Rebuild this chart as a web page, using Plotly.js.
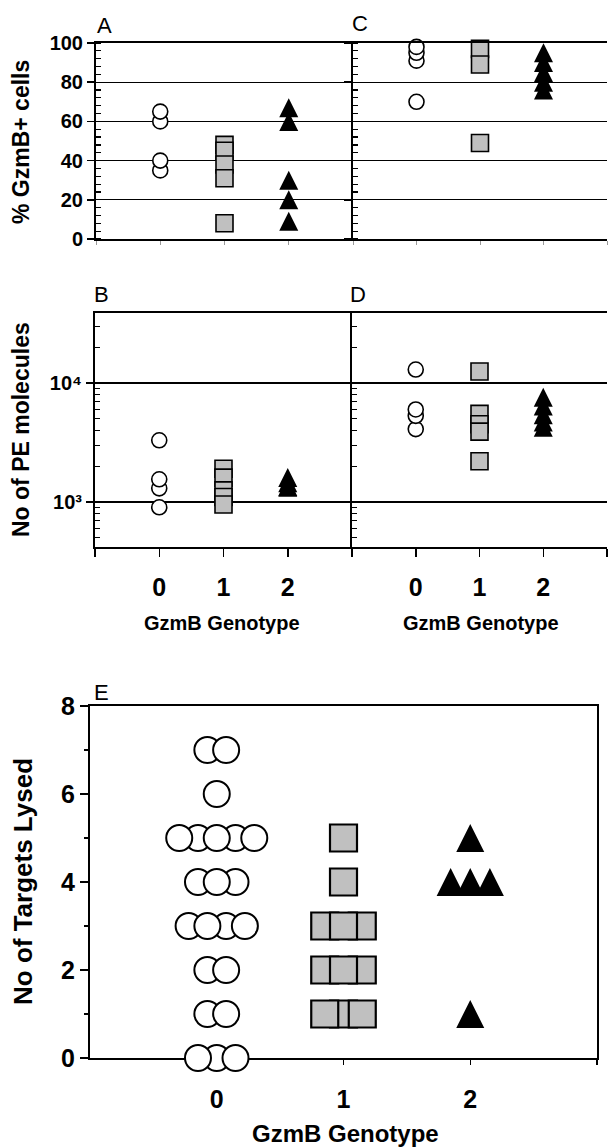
<!DOCTYPE html>
<html><head><meta charset="utf-8">
<script src="https://cdn.plot.ly/plotly-3.0.1.min.js"></script>
<style>html,body{margin:0;padding:0;background:#fff}#chart{width:608px;height:1147px}</style>
</head><body><div id="chart"></div>
<script>
// ---------- data ----------
const genotypes = [0, 1, 2];
const genotypeLabels = ['0', '1', '2'];
// Panel A: % GzmB+ cells
const A_g0 = [60, 65, 35, 40];
const A_g1 = [48, 45, 38, 31, 8];
const A_g2 = [67, 60, 30, 20, 9];
// Panel C: % GzmB+ cells
const C_g0 = [91, 95, 98, 70];
const C_g1 = [97, 89, 49];
const C_g2 = [95, 90, 85, 80, 76];
// Panel B: No of PE molecules
const B_g0 = [3300, 1300, 1550, 900];
const B_g1 = [1900, 1600, 1250, 1100, 950];
const B_g2 = [1600, 1450, 1350, 1330];
// Panel D: No of PE molecules
const D_g0 = [13000, 4100, 5300, 6000];
const D_g1 = [12500, 5500, 4500, 3900, 2200];
const D_g2 = [7600, 6400, 5400, 4700, 4250];
// Panel E: No of targets lysed (value and number of cells at that value)
const E_g0_values = [7, 6, 5, 4, 3, 2, 1, 0];
const E_g0_counts = [2, 1, 5, 3, 4, 2, 2, 3];
const E_g1_values = [5, 4, 3, 2, 1];
const E_g1_counts = [1, 1, 3, 3, 3];
const E_g2_values = [5, 4, 1];
const E_g2_counts = [1, 3, 1];
const pctTicks = [0, 20, 40, 60, 80, 100];
const logTicks = [1000, 10000];
const logTickText = ['10³', '10⁴'];
const lysedTicks = [0, 2, 4, 6, 8];

// ---------- helpers ----------
const W = 608, H = 1147;
const px = v => v / W, py = v => 1 - v / H;
const FAM = 'Liberation Sans, Arial, sans-serif';
const bf = (s) => ({family: FAM, size: s, color: '#000', weight: 700});

// spreads the points of each value row side by side around the group position
function swarm(group, values, counts, spacing, orderFn) {
  const xs = [], ys = [];
  values.forEach((v, k) => {
    const n = counts[k];
    const ord = orderFn(v, n) || Array.from({length: n}, (_, i) => i);
    ord.forEach(i => { xs.push(group + (i - (n - 1) / 2) * spacing); ys.push(v); });
  });
  return {x: xs, y: ys};
}

// isosceles triangle (equal width/height) centred on the data point
const tri = (s) => ({symbol: 'arrow-down', angle: 180, size: s, standoff: s / 2, color: '#000', line: {color: '#000', width: 0}});
const mCircle = {symbol: 'circle', size: 15, color: '#fff', line: {color: '#000', width: 1.6}};
const mSquare = {symbol: 'square', size: 17, color: '#c0c0c0', line: {color: '#000', width: 1.6}};
const mTri = tri(19);
const eCircle = {symbol: 'circle', size: 26, color: '#fff', line: {color: '#000', width: 2}};
const eSquare = {symbol: 'square', size: 27, color: '#c0c0c0', line: {color: '#000', width: 2.2}};
const eTri = tri(28);

function col(vals, g, xa, ya, marker) {
  return {type: 'scatter', mode: 'markers', x: vals.map(() => genotypes[g]), y: vals,
    xaxis: xa, yaxis: ya, marker: marker, hoverinfo: 'skip', cliponaxis: false};
}

const traces = [];
[['x', 'y', A_g0, A_g1, A_g2], ['x2', 'y2', C_g0, C_g1, C_g2],
 ['x3', 'y3', B_g0, B_g1, B_g2], ['x4', 'y4', D_g0, D_g1, D_g2]].forEach(p => {
  traces.push(col(p[2], 0, p[0], p[1], mCircle));
  traces.push(col(p[3], 1, p[0], p[1], mSquare));
  traces.push(col(p[4], 2, p[0], p[1], mTri));
});
const SP = 0.148;
const e0 = swarm(genotypes[0], E_g0_values, E_g0_counts, SP, (v, n) =>
  ({3: v === 0 ? [1, 0, 2] : [0, 2, 1], 4: [2, 0, 1, 3], 5: [1, 3, 0, 2, 4]})[n]);
const e1 = swarm(genotypes[1], E_g1_values, E_g1_counts, SP, (v, n) =>
  n === 3 ? (v === 1 ? [1, 0, 2] : [0, 2, 1]) : null);
const e2 = swarm(genotypes[2], E_g2_values, E_g2_counts, 0.155, () => null);
[[e0, eCircle], [e1, eSquare], [e2, eTri]].forEach(([d, m]) => {
  traces.push({type: 'scatter', mode: 'markers', x: d.x, y: d.y, xaxis: 'x5', yaxis: 'y5',
    marker: m, hoverinfo: 'skip', cliponaxis: false});
});

// ---------- axes ----------
const topX = (dom, anchor) => ({domain: dom, anchor: anchor, range: [-1, 3], tickmode: 'array',
  tickvals: [-1, 0, 1, 2, 3], showticklabels: false, ticks: 'outside', ticklen: 4, tickwidth: 1,
  tickcolor: '#999', showline: true, linecolor: '#000', linewidth: 2, mirror: true,
  showgrid: false, zeroline: false, fixedrange: true});
const midX = (dom, anchor) => ({domain: dom, anchor: anchor, range: [-1, 3], tickmode: 'array',
  tickvals: genotypes, ticktext: genotypeLabels, tickfont: bf(25),
  ticks: 'outside', ticklen: 8, tickwidth: 1.5, tickcolor: '#000', ticklabelstandoff: 9,
  showline: true, linecolor: '#000', linewidth: 2, mirror: true,
  showgrid: false, zeroline: false, fixedrange: true,
  minor: {tickmode: 'array', tickvals: [-1, 3], ticks: 'outside', ticklen: 8, tickwidth: 1.5, tickcolor: '#000', showgrid: false}});
const pctY = (dom, anchor, labels) => ({domain: dom, anchor: anchor, range: [0, 100], tickmode: 'array',
  tickvals: pctTicks, showticklabels: labels, tickfont: bf(20), ticks: 'outside', ticklen: 7,
  tickwidth: 1.5, tickcolor: '#000', showgrid: true, gridcolor: '#000', gridwidth: 1.3,
  showline: true, linecolor: '#000', linewidth: 2, zeroline: false, fixedrange: true,
  minor: {tickmode: 'linear', tick0: 0, dtick: 4, ticks: 'inside', ticklen: 5, tickwidth: 1.2, tickcolor: '#000', showgrid: false}});
const logMinor = [];
[100, 1000, 10000].forEach(d => { for (let m = 2; m <= 9; m++) logMinor.push(m * d); });
const logY = (dom, anchor, labels) => ({domain: dom, anchor: anchor, type: 'log', range: [2.62, 4.59],
  tickmode: 'array', tickvals: logTicks, ticktext: logTickText, showticklabels: labels, tickfont: bf(20),
  ticks: 'outside', ticklen: 7, tickwidth: 1.5, tickcolor: '#000', showgrid: true, gridcolor: '#000',
  gridwidth: 1.3, showline: true, linecolor: '#000', linewidth: 2, zeroline: false, fixedrange: true,
  minor: {tickmode: 'array', tickvals: logMinor, ticks: 'inside', ticklen: 5, tickwidth: 1.2, tickcolor: '#000', showgrid: false}});

const yTop = [py(239), py(43)], yMid = [py(547), py(313)], yBot = [py(1058), py(706)];
const layout = {
  width: W, height: H, margin: {l: 0, r: 0, t: 0, b: 0}, showlegend: false,
  paper_bgcolor: '#fff', plot_bgcolor: 'rgba(0,0,0,0)', font: {family: FAM, color: '#000'},
  xaxis: topX([px(96), px(353)], 'y'),
  yaxis: pctY(yTop, 'x', true),
  xaxis2: topX([px(353), px(607)], 'y2'),
  yaxis2: pctY(yTop, 'x2', false),
  xaxis3: midX([px(95), px(352)], 'y3'),
  yaxis3: logY(yMid, 'x3', true),
  xaxis4: midX([px(352), px(607)], 'y4'),
  yaxis4: logY(yMid, 'x4', false),
  xaxis5: {domain: [px(90), px(597)], anchor: 'y5', range: [-1, 3], tickmode: 'array',
    tickvals: genotypes, ticktext: genotypeLabels, tickfont: bf(25), ticks: 'outside',
    ticklen: 5, tickwidth: 1.5, tickcolor: '#000', ticklabelstandoff: 13, showline: true,
    linecolor: '#000', linewidth: 2, mirror: true, showgrid: false, zeroline: false,
    layer: 'below traces', fixedrange: true,
    minor: {tickmode: 'array', tickvals: [3], ticks: 'outside', ticklen: 5, tickwidth: 1.5, tickcolor: '#000', showgrid: false}},
  yaxis5: {domain: yBot, anchor: 'x5', range: [0, 8], tickmode: 'array', tickvals: lysedTicks,
    tickfont: bf(25), ticks: 'outside', ticklen: 8, tickwidth: 1.5, tickcolor: '#000',
    showline: true, linecolor: '#000', linewidth: 2, mirror: true, showgrid: false, zeroline: false,
    layer: 'below traces', fixedrange: true,
    minor: {tickmode: 'linear', tick0: 1, dtick: 2, ticks: 'outside', ticklen: 4, tickwidth: 1.2, tickcolor: '#000', showgrid: false}},
  annotations: []
};
const ann = (text, x, y, font, extra) => Object.assign({text: text, xref: 'paper', yref: 'paper',
  x: px(x), y: py(y), showarrow: false, font: font, xanchor: 'center', yanchor: 'middle'}, extra || {});
const letterFont = {family: FAM, size: 22, color: '#000'};
layout.annotations.push(
  ann('A', 95, 25, letterFont, {xanchor: 'left'}),
  ann('C', 350, 24, letterFont, {xanchor: 'left'}),
  ann('B', 92, 295, letterFont, {xanchor: 'left'}),
  ann('D', 348, 295, letterFont, {xanchor: 'left'}),
  ann('E', 92, 692, letterFont, {xanchor: 'left'}),
  ann('% GzmB+ cells', 21, 142, bf(23), {textangle: -90}),
  ann('No of PE molecules', 21, 430, bf(23), {textangle: -90}),
  ann('No of Targets Lysed', 23, 882, bf(26), {textangle: -90}),
  ann('GzmB Genotype', 222, 623, bf(20)),
  ann('GzmB Genotype', 481, 623, bf(20)),
  ann('GzmB Genotype', 345, 1133, bf(24))
);
Plotly.newPlot('chart', traces, layout, {staticPlot: true, displayModeBar: false});
</script></body></html>
